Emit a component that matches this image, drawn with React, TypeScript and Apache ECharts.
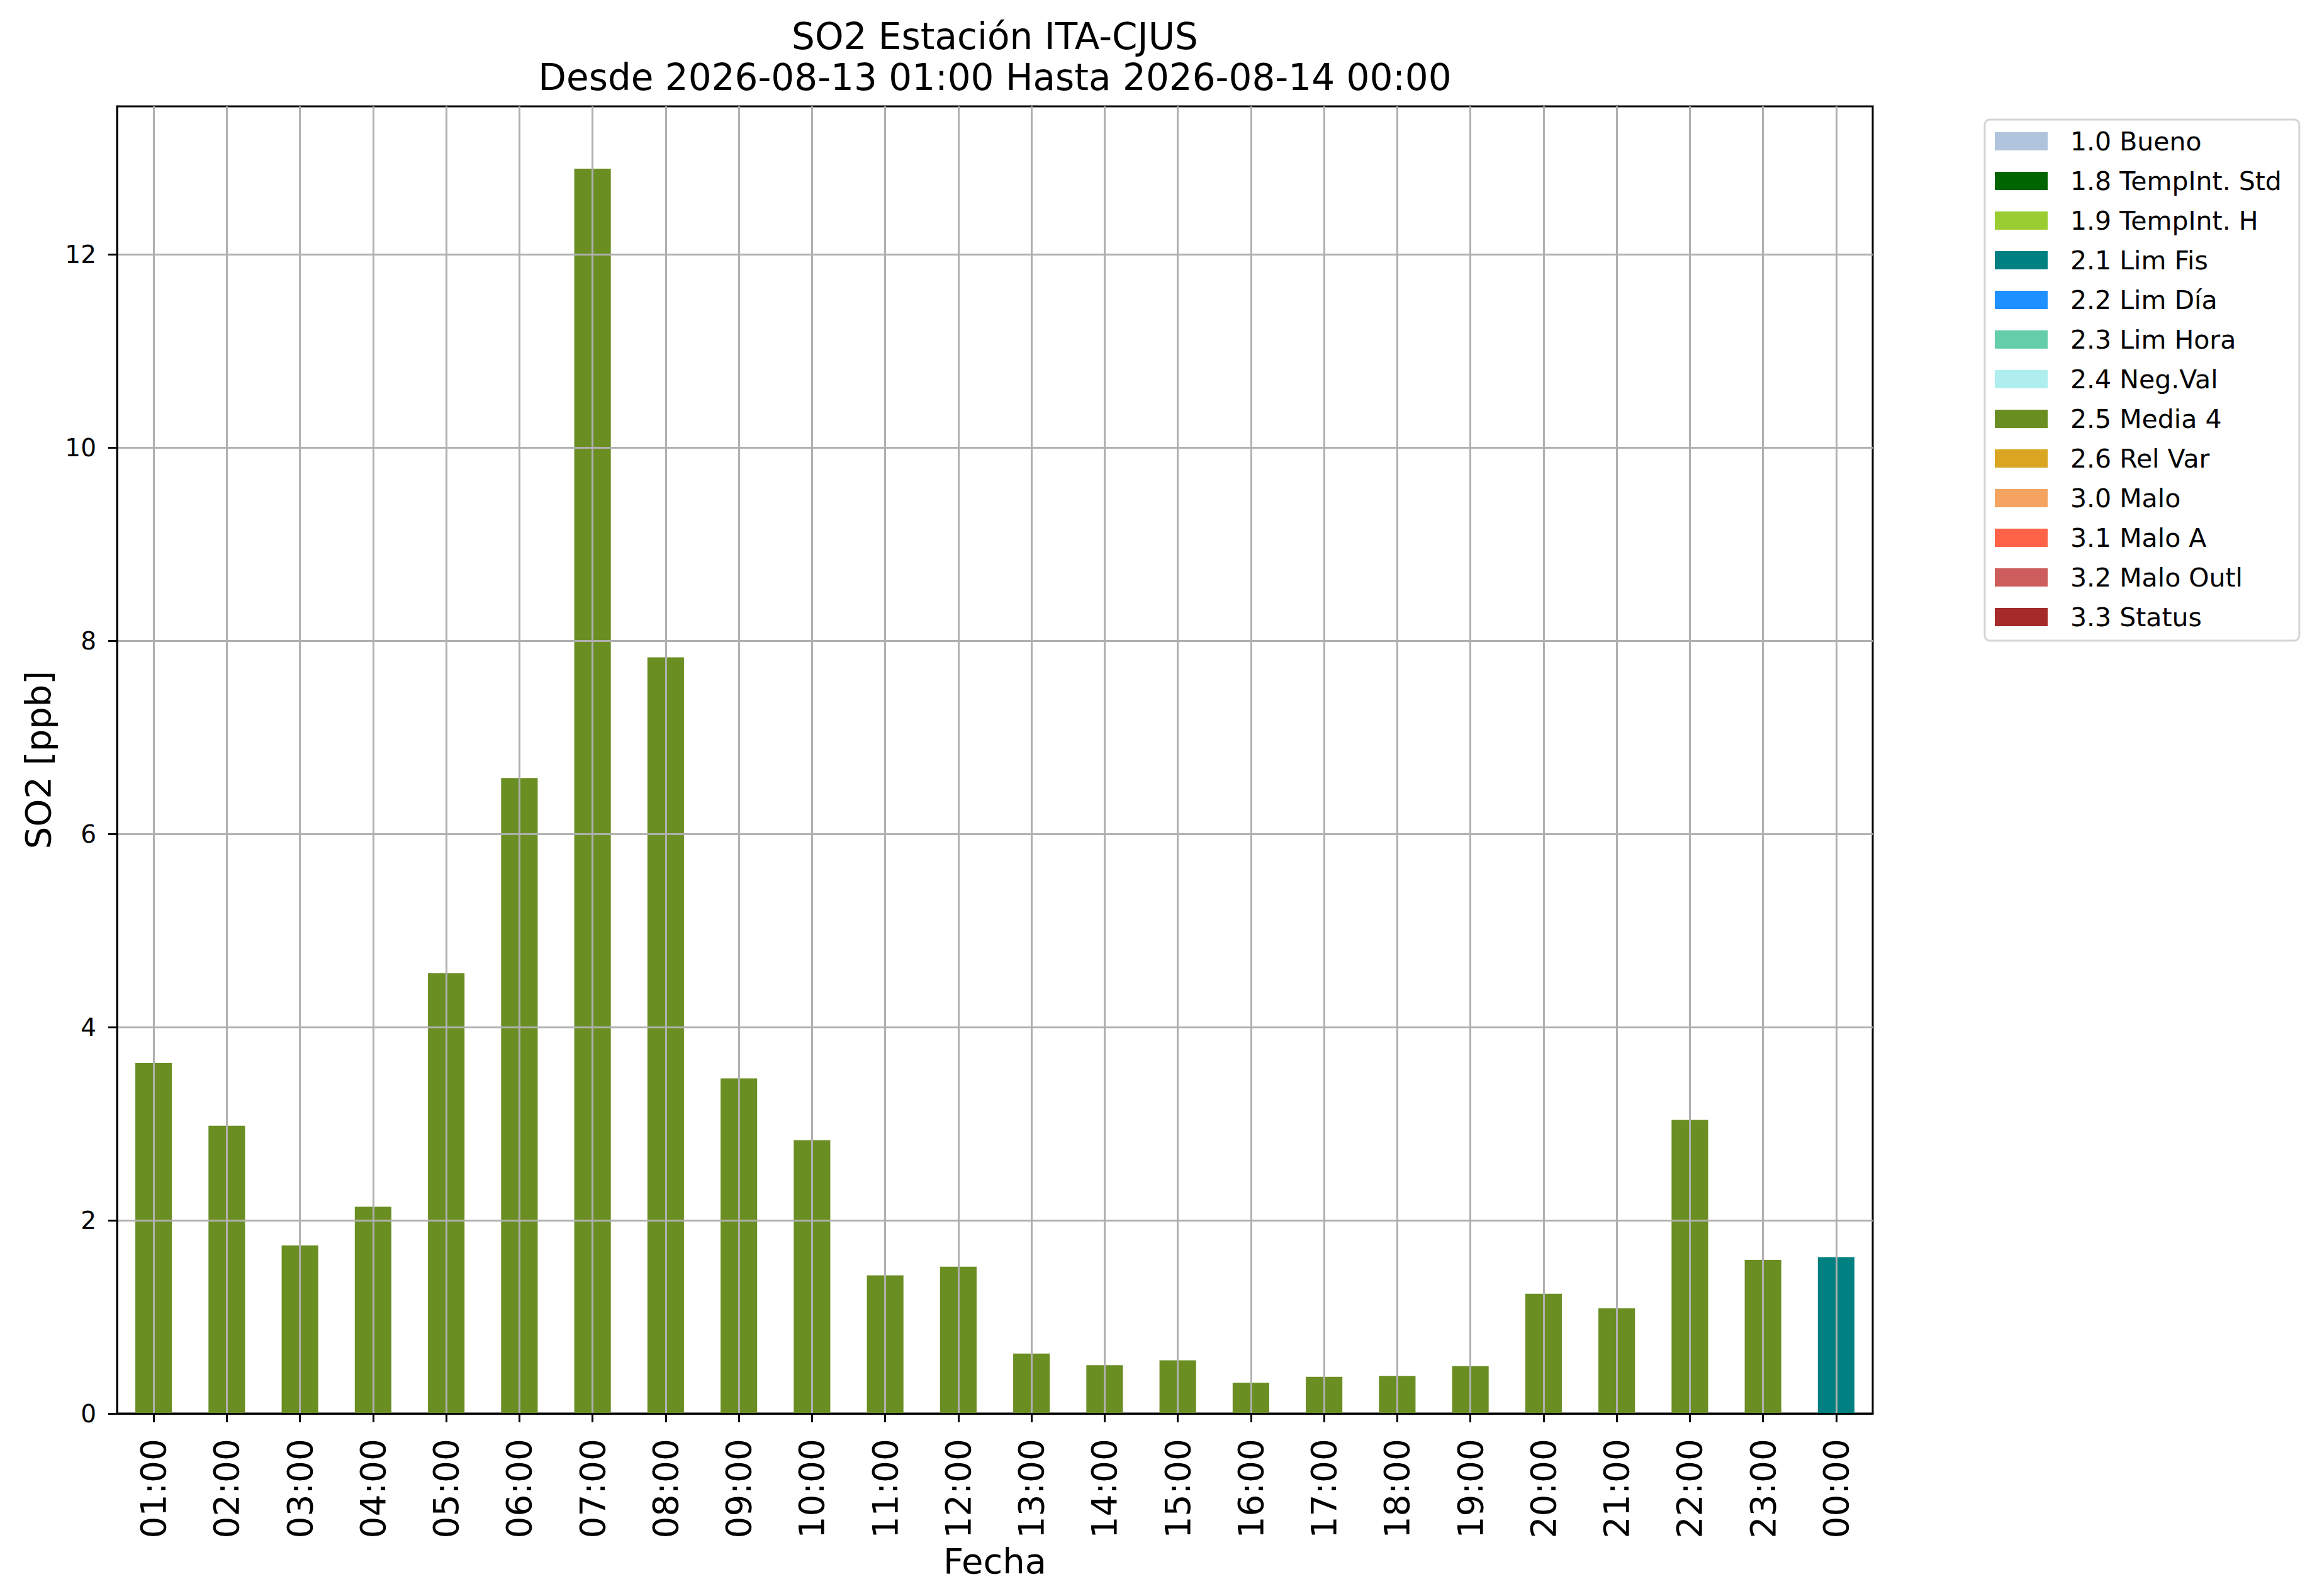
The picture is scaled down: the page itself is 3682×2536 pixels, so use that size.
import React, { useEffect, useRef } from "react";
import * as echarts from "echarts";

const hours = [
  "01:00", "02:00", "03:00", "04:00", "05:00", "06:00", "07:00", "08:00",
  "09:00", "10:00", "11:00", "12:00", "13:00", "14:00", "15:00", "16:00",
  "17:00", "18:00", "19:00", "20:00", "21:00", "22:00", "23:00", "00:00",
];

const so2Values = [
  3.63, 2.98, 1.74, 2.14, 4.56, 6.58, 12.89, 7.83, 3.47, 2.83, 1.43, 1.52,
  0.62, 0.5, 0.55, 0.32, 0.38, 0.39, 0.49, 1.24, 1.09, 3.04, 1.59, 1.62,
];

const flags = [
  "2.5", "2.5", "2.5", "2.5", "2.5", "2.5", "2.5", "2.5", "2.5", "2.5", "2.5", "2.5",
  "2.5", "2.5", "2.5", "2.5", "2.5", "2.5", "2.5", "2.5", "2.5", "2.5", "2.5", "2.1",
];

const flagNames = [
  "1.0 Bueno", "1.8 TempInt. Std", "1.9 TempInt. H", "2.1 Lim Fis", "2.2 Lim Día",
  "2.3 Lim Hora", "2.4 Neg.Val", "2.5 Media 4", "2.6 Rel Var", "3.0 Malo",
  "3.1 Malo A", "3.2 Malo Outl", "3.3 Status",
];

const flagColors = [
  "#b0c4de", "#006400", "#9acd32", "#008080", "#1e90ff", "#66cdaa", "#afeeee",
  "#6b8e23", "#daa520", "#f4a460", "#ff6347", "#cd5c5c", "#a52a2a",
];

const yTicks = [0, 2, 4, 6, 8, 10, 12];

const titleText = "SO2 Estación ITA-CJUS\nDesde 2026-08-13 01:00 Hasta 2026-08-14 00:00";
const xName = "Fecha";
const yName = "SO2 [ppb]";

const FONT = "DejaVu Sans";

export default function App() {
  const ref = useRef<HTMLDivElement>(null);

  useEffect(() => {
    document.body.style.margin = "0";
    document.documentElement.style.overflow = "hidden";
    if (!ref.current) return;
    const chart = echarts.init(ref.current, undefined, { renderer: "svg" });

    const yMax = Math.max(...so2Values) * 1.05;

    const series = flagNames.map((name, k) => {
      const code = name.split(" ")[0];
      return {
        name,
        type: "bar",
        stack: "q",
        barWidth: "50%",
        itemStyle: { color: flagColors[k] },
        data: so2Values.map((v, i) => (flags[i] === code ? v : "-")),
      };
    });

    chart.setOption({
      animation: false,
      backgroundColor: "#ffffff",
      textStyle: { fontFamily: FONT },
      title: {
        text: titleText,
        left: 1581,
        top: 25,
        textAlign: "center",
        padding: 0,
        textStyle: {
          fontFamily: FONT,
          fontSize: 58,
          fontWeight: "normal",
          color: "#000",
          lineHeight: 65,
        },
      },
      legend: {
        orient: "vertical",
        left: 3154,
        top: 190,
        padding: [14, 28, 17, 16],
        itemWidth: 84,
        itemHeight: 29,
        itemGap: 22,
        icon: "rect",
        selectedMode: false,
        borderColor: "#d5d5d5",
        borderWidth: 3,
        borderRadius: 8,
        backgroundColor: "#ffffff",
        data: flagNames,
        textStyle: {
          fontFamily: FONT,
          fontSize: 41,
          lineHeight: 40,
          color: "#000",
          padding: [0, 0, 0, 31],
        },
      },
      grid: {
        left: 186,
        top: 169,
        right: 706,
        bottom: 290,
        show: true,
        borderColor: "#000",
        borderWidth: 3,
        backgroundColor: "transparent",
        containLabel: false,
      },
      xAxis: {
        type: "category",
        data: hours,
        z: 3,
        name: xName,
        nameLocation: "middle",
        nameGap: 194,
        nameTextStyle: { fontFamily: FONT, fontSize: 56, color: "#000" },
        axisLine: { show: true, lineStyle: { color: "#000", width: 3 } },
        axisTick: {
          show: true,
          alignWithLabel: true,
          interval: 0,
          length: 14,
          lineStyle: { color: "#000", width: 3 },
        },
        axisLabel: {
          interval: 0,
          rotate: 90,
          margin: 40,
          fontFamily: FONT,
          fontSize: 55,
          color: "#000",
        },
        splitLine: {
          show: true,
          alignWithLabel: true,
          interval: 0,
          lineStyle: { color: "#b0b0b0", width: 3 },
        },
      },
      yAxis: {
        type: "value",
        min: 0,
        max: yMax,
        interval: 2,
        z: 3,
        name: yName,
        nameLocation: "middle",
        nameGap: 98,
        nameTextStyle: { fontFamily: FONT, fontSize: 56, color: "#000" },
        axisLine: { show: true, lineStyle: { color: "#000", width: 3 } },
        axisTick: {
          show: true,
          length: 14,
          customValues: yTicks,
          lineStyle: { color: "#000", width: 3 },
        },
        axisLabel: {
          margin: 33,
          customValues: yTicks,
          fontFamily: FONT,
          fontSize: 39,
          color: "#000",
        },
        splitLine: {
          show: true,
          lineStyle: { color: "#b0b0b0", width: 3 },
        },
      },
      series,
    });

    return () => {
      chart.dispose();
    };
  }, []);

  return <div ref={ref} style={{ width: 3682, height: 2536 }} />;
}
